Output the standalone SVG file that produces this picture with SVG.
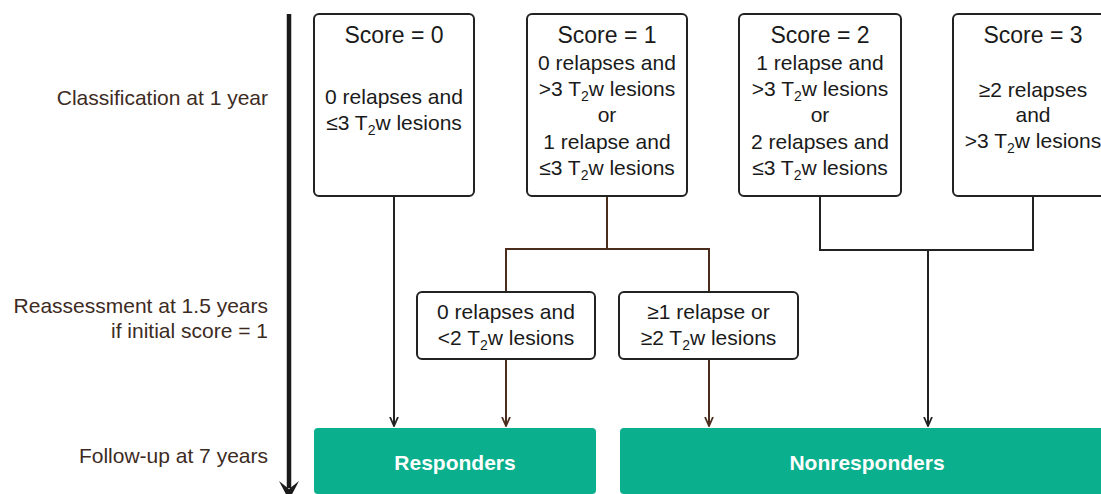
<svg xmlns="http://www.w3.org/2000/svg" width="1101" height="494" viewBox="0 0 1101 494">
<style>
  .box { fill: #ffffff; stroke: #222222; stroke-width: 2; }
  .t { font-family: "Liberation Sans", Arial, sans-serif; font-size: 21px; fill: #1a1a1a; text-anchor: middle; }
  .title { font-size: 23px; }
  .sub { font-size: 14px; }
  .lbl { font-family: "Liberation Sans", Arial, sans-serif; font-size: 21px; fill: #3d2b1f; text-anchor: end; }
  .out { fill: #0aaf8d; }
  .outt { font-family: "Liberation Sans", Arial, sans-serif; font-size: 21px; font-weight: bold; fill: #ffffff; text-anchor: middle; }
  .ln { fill: none; stroke: #222222; stroke-width: 2; }
  .br { fill: none; stroke: #4b2d1e; stroke-width: 2; }
</style>
<defs>
  <marker id="ah" markerWidth="10" markerHeight="10" refX="9" refY="4" orient="auto" markerUnits="userSpaceOnUse" viewBox="0 0 10 8">
    <path d="M0,0 L9,4 L0,8" fill="none" stroke="#222222" stroke-width="1.8"/>
  </marker>
  <marker id="ahb" markerWidth="10" markerHeight="10" refX="9" refY="4" orient="auto" markerUnits="userSpaceOnUse" viewBox="0 0 10 8">
    <path d="M0,0 L9,4 L0,8" fill="none" stroke="#4b2d1e" stroke-width="1.8"/>
  </marker>
</defs>

<g id="timeline">
  <line x1="289" y1="14" x2="289" y2="488" stroke="#1a1a1a" stroke-width="4.5"/>
  <path d="M279,481 L289,489 L299,481 L289,500 Z" fill="#1a1a1a"/>
  <text class="lbl" x="268" y="105">Classification at 1 year</text>
  <text class="lbl" x="268" y="313">Reassessment at 1.5 years</text>
  <text class="lbl" x="268" y="338">if initial score = 1</text>
  <text class="lbl" x="268" y="463">Follow-up at 7 years</text>
</g>

<g id="connectors">
  <line class="ln" x1="394" y1="196" x2="394" y2="426" marker-end="url(#ah)"/>
  <polyline class="br" points="607,196 607,249 506,249 506,292"/>
  <polyline class="br" points="607,249 709,249 709,292"/>
  <line class="br" x1="506" y1="359" x2="506" y2="426" marker-end="url(#ahb)"/>
  <line class="br" x1="709" y1="359" x2="709" y2="426" marker-end="url(#ahb)"/>
  <polyline class="ln" points="820,196 820,250 1033,250 1033,196"/>
  <line class="ln" x1="928" y1="250" x2="928" y2="426" marker-end="url(#ah)"/>
</g>

<g id="score0">
  <rect class="box" x="314" y="14" width="160" height="182" rx="5"/>
  <text class="t title" x="394" y="43">Score = 0</text>
  <text class="t" x="394" y="104">0 relapses and</text>
  <text class="t" x="394" y="130">≤3 T<tspan class="sub" dy="5">2</tspan><tspan dy="-5">w lesions</tspan></text>
</g>

<g id="score1">
  <rect class="box" x="527" y="14" width="160" height="182" rx="5"/>
  <text class="t title" x="607" y="43">Score = 1</text>
  <text class="t" x="607" y="70">0 relapses and</text>
  <text class="t" x="607" y="96">&gt;3 T<tspan class="sub" dy="5">2</tspan><tspan dy="-5">w lesions</tspan></text>
  <text class="t" x="607" y="122">or</text>
  <text class="t" x="607" y="149">1 relapse and</text>
  <text class="t" x="607" y="175">≤3 T<tspan class="sub" dy="5">2</tspan><tspan dy="-5">w lesions</tspan></text>
</g>

<g id="score2">
  <rect class="box" x="739" y="14" width="162" height="182" rx="5"/>
  <text class="t title" x="820" y="43">Score = 2</text>
  <text class="t" x="820" y="70">1 relapse and</text>
  <text class="t" x="820" y="96">&gt;3 T<tspan class="sub" dy="5">2</tspan><tspan dy="-5">w lesions</tspan></text>
  <text class="t" x="820" y="122">or</text>
  <text class="t" x="820" y="149">2 relapses and</text>
  <text class="t" x="820" y="175">≤3 T<tspan class="sub" dy="5">2</tspan><tspan dy="-5">w lesions</tspan></text>
</g>

<g id="score3">
  <rect class="box" x="953" y="14" width="162" height="182" rx="5"/>
  <text class="t title" x="1033" y="43">Score = 3</text>
  <text class="t" x="1033" y="97">≥2 relapses</text>
  <text class="t" x="1033" y="122">and</text>
  <text class="t" x="1033" y="148">&gt;3 T<tspan class="sub" dy="5">2</tspan><tspan dy="-5">w lesions</tspan></text>
</g>

<g id="reassess-low">
  <rect class="box" x="417" y="292" width="178" height="67" rx="5"/>
  <text class="t" x="506" y="319">0 relapses and</text>
  <text class="t" x="506" y="345">&lt;2 T<tspan class="sub" dy="5">2</tspan><tspan dy="-5">w lesions</tspan></text>
</g>

<g id="reassess-high">
  <rect class="box" x="619" y="292" width="179" height="67" rx="5"/>
  <text class="t" x="708.5" y="319">≥1 relapse or</text>
  <text class="t" x="708.5" y="345">≥2 T<tspan class="sub" dy="5">2</tspan><tspan dy="-5">w lesions</tspan></text>
</g>

<g id="responders">
  <rect class="out" x="314" y="428" width="282" height="66" rx="4"/>
  <text class="outt" x="455" y="470">Responders</text>
</g>

<g id="nonresponders">
  <rect class="out" x="620" y="428" width="494" height="66" rx="4"/>
  <text class="outt" x="867" y="470">Nonresponders</text>
</g>
</svg>
